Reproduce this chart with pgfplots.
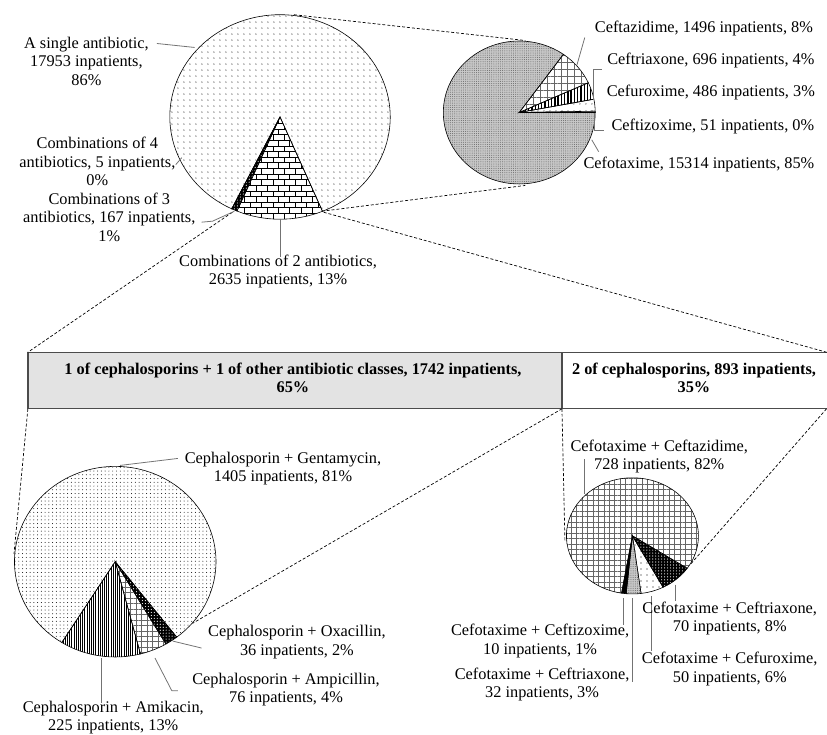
\documentclass[border=0pt]{standalone}
\usepackage{pgfplots}
\pgfplotsset{compat=1.18}
\usepackage{pgfplotstable}
\usepackage{fontspec}
\setmainfont{Liberation Serif}
\usetikzlibrary{patterns,patterns.meta}

\tikzset{
  lbl/.style={font=\fontsize{16.5}{18.5}\selectfont, align=center, inner sep=0pt},
  blbl/.style={font=\fontsize{16.5}{18.5}\selectfont\bfseries, align=center, inner sep=0pt},
  lead/.style={draw=black!55, line width=0.8pt},
  conn/.style={draw=black, line width=0.7pt, dash pattern=on 3pt off 2pt},
  slice/.style={draw=black, line width=0.6pt},
  pSparse/.style={pattern={Dots[radius=0.6pt,distance=6.5pt]}, pattern color=black},
  pFine/.style={pattern={Dots[radius=0.5pt,distance=3.8pt]}, pattern color=black},
  pBrick/.style={pattern=bricks, pattern color=black},
  pBlack/.style={fill=black},
  pWhite/.style={fill=white},
  pGrey/.style={preaction={fill=black!22}, pattern={Dots[radius=0.5pt,distance=2.2pt]}, pattern color=black!60},
  pGrid/.style={pattern={Hatch[angle=0,distance=7pt,line width=0.4pt]}, pattern color=black!60},
  pGridS/.style={pattern={Hatch[angle=0,distance=5.5pt,line width=0.4pt]}, pattern color=black!60},
  pStripe/.style={pattern={Lines[angle=90,distance=3.3pt,line width=1.4pt]}, pattern color=black},
  pStripeS/.style={pattern={Lines[angle=90,distance=2.2pt,line width=0.8pt]}, pattern color=black},
  pBlackDots/.style={preaction={fill=black}, pattern={Dots[radius=0.6pt,distance=3pt]}, pattern color=white},
}

% slices in clockwise order, value and fill style
\pgfplotstableread{
v s
17953 pSparse
2635 pBrick
167 pBlackDots
5 pBlack
}\tabTL
\pgfplotstableread{
v s
15314 pGrey
1496 pGrid
696 pStripe
486 pSparse
51 pWhite
}\tabTR
\pgfplotstableread{
v s
1405 pFine
36 pBlackDots
76 pGridS
225 pStripeS
}\tabBL
\pgfplotstableread{
v s
728 pGridS
70 pBlackDots
50 pSparse
32 pGrey
10 pBlack
}\tabBR

% #1 table, #2 cx, #3 cy, #4 rx, #5 ry, #6 start angle
\newcommand\drawpie[6]{%
  \pgfplotstablegetrowsof{#1}%
  \pgfmathtruncatemacro\pielast{\pgfplotsretval-1}%
  \def\pietotal{0}%
  \pgfplotsforeachungrouped \pieidx in {0,...,\pielast}{%
    \pgfplotstablegetelem{\pieidx}{v}\of{#1}%
    \edef\pietotal{\fpeval{\pietotal+\pgfplotsretval}}%
  }%
  \def\pieang{#6}%
  \pgfplotsforeachungrouped \pieidx in {0,...,\pielast}{%
    \pgfplotstablegetelem{\pieidx}{v}\of{#1}%
    \edef\pienext{\fpeval{round(\pieang-\pgfplotsretval/\pietotal*360,4)}}%
    \pgfplotstablegetelem{\pieidx}{s}\of{#1}%
    \edef\piecmd{\noexpand\path[slice,\pgfplotsretval] (#2,#3) -- ++(\pieang:#4bp and #5bp)
      arc[start angle=\pieang, end angle=\pienext, x radius=#4bp, y radius=#5bp] -- cycle;}%
    \piecmd
    \let\pieang\pienext
  }%
}

\begin{document}
\begin{tikzpicture}
% the stacked bar of the 2-antibiotic combinations
\begin{axis}[at={(0,0)}, anchor=south west, scale only axis,
  width=827bp, height=738bp,
  xmin=-71.23, xmax=2606.5, ymin=0, ymax=738, y dir=reverse,
  hide axis, xbar stacked, bar width=57]
\addplot[xbar, fill=black!11, draw=black!70, line width=1.3pt] coordinates {(1742,382.5)};
\addplot[xbar, fill=white, draw=black!70, line width=1.3pt] coordinates {(893,382.5)};
\end{axis}
% pies, labels and connectors, in pixel units
\begin{axis}[at={(0,0)}, anchor=south west, scale only axis,
  width=827bp, height=738bp,
  xmin=0, xmax=827, ymin=0, ymax=738, y dir=reverse,
  hide axis, clip=false]
\drawpie{\tabTL}{276}{117}{111}{103}{244}
\drawpie{\tabTR}{517}{112.5}{76.5}{72}{0}
\drawpie{\tabBL}{110}{565}{101.5}{96}{238}
\drawpie{\tabBR}{631}{539}{66.5}{58.5}{260.5}

% connectors
\draw[conn] (290,14) -- (523,40);
\draw[conn] (318,212) -- (523,186);
\draw[conn] (228,213) -- (22,354);
\draw[conn] (320,213) -- (826.5,354);
\draw[conn] (22,411) -- (8,557);
\draw[conn] (560,411) -- (188,627);
\draw[conn] (560,411) -- (563,545);
\draw[conn] (826.5,411) -- (690,567);

% leader lines
\draw[lead] (152,43) -- (190,47);
\draw[lead] (171,165) -- (177,158);
\draw[lead] (197,223) -- (208,222) -- (230,212);
\draw[lead] (276,220) -- (276,258);
\draw[lead] (583,37) -- (575,65);
\draw[lead] (600,69) -- (592,69) -- (592,100);
\draw[lead] (593,113) -- (593,131) -- (602,131);
\draw[lead] (590,140) -- (597,152);
\draw[lead] (173,461) -- (115,468);
\draw[lead] (168,645) -- (197,652);
\draw[lead] (150,662) -- (167,695) -- (173,695);
\draw[lead] (96,662) -- (96,707);
\draw[lead] (583,462) -- (583,497);
\draw[lead] (674,588) -- (674,605);
\draw[lead] (650,600) -- (650,655);
\draw[lead] (622,602) -- (622,629);
\draw[lead] (631,602) -- (631,686);

% labels
\node[lbl] at (81,61) {A single antibiotic,\\17953 inpatients,\\86\%};
\node[lbl] at (92,162) {Combinations of 4\\antibiotics, 5 inpatients,\\0\%};
\node[lbl] at (104,218) {Combinations of 3\\antibiotics, 167 inpatients,\\1\%};
\node[lbl] at (274,273) {Combinations of 2 antibiotics,\\2635 inpatients, 13\%};
\node[lbl] at (703,28) {Ceftazidime, 1496 inpatients, 8\%};
\node[lbl] at (710,60) {Ceftriaxone, 696 inpatients, 4\%};
\node[lbl] at (710,92) {Cefuroxime, 486 inpatients, 3\%};
\node[lbl] at (712,127) {Ceftizoxime, 51 inpatients, 0\%};
\node[lbl] at (698,165) {Cefotaxime, 15314 inpatients, 85\%};
\node[blbl] at (289,380) {1 of cephalosporins + 1 of other antibiotic classes, 1742 inpatients,\\65\%};
\node[blbl] at (693,380) {2 of cephalosporins, 893 inpatients,\\35\%};
\node[lbl] at (279,471) {Cephalosporin + Gentamycin,\\1405 inpatients, 81\%};
\node[lbl] at (293,646) {Cephalosporin + Oxacillin,\\36 inpatients, 2\%};
\node[lbl] at (282,694) {Cephalosporin + Ampicillin,\\76 inpatients, 4\%};
\node[lbl] at (108,722) {Cephalosporin + Amikacin,\\225 inpatients, 13\%};
\node[lbl] at (658,459) {Cefotaxime + Ceftazidime,\\728 inpatients, 82\%};
\node[lbl] at (729,622) {Cefotaxime + Ceftriaxone,\\70 inpatients, 8\%};
\node[lbl] at (729,673) {Cefotaxime + Cefuroxime,\\50 inpatients, 6\%};
\node[lbl] at (538,645) {Cefotaxime + Ceftizoxime,\\10 inpatients, 1\%};
\node[lbl] at (540,689) {Cefotaxime + Ceftriaxone,\\32 inpatients, 3\%};
\end{axis}
\end{tikzpicture}
\end{document}
